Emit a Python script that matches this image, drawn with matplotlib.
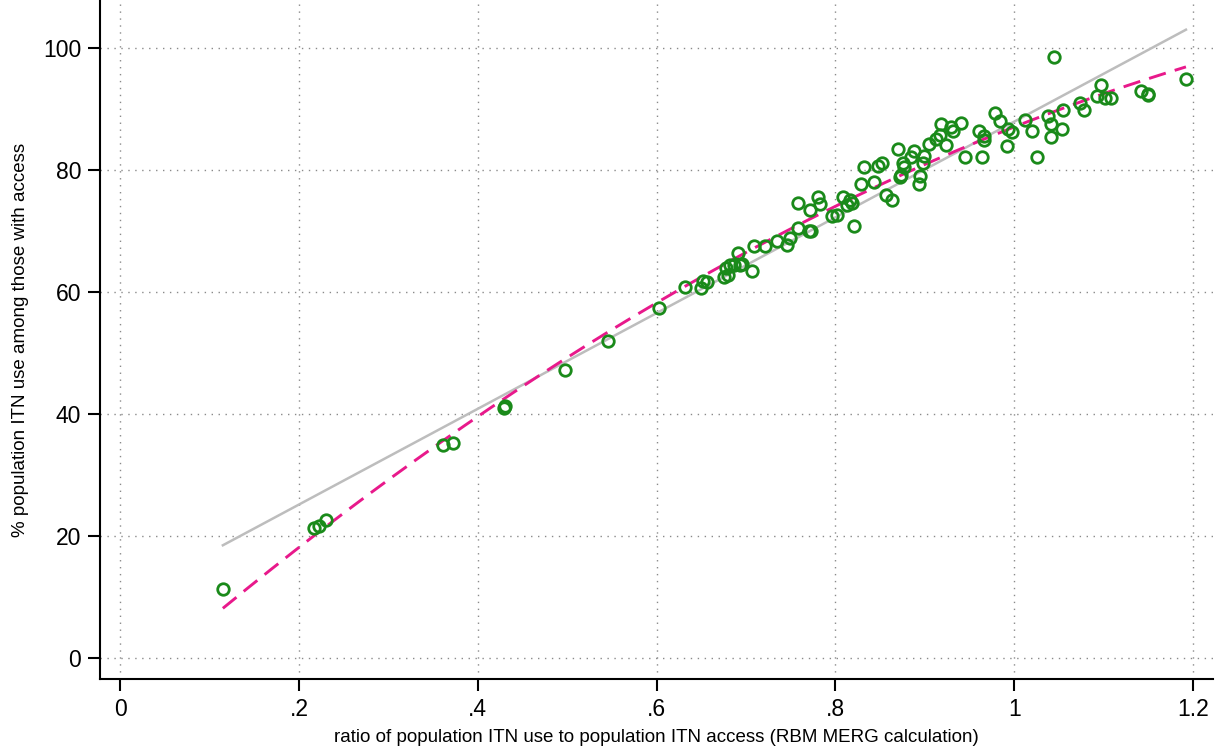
import matplotlib
matplotlib.use("Agg")
import matplotlib.pyplot as plt
import numpy as np

# ratio of use to access (x) and % use among those with access (y)
ratio = [0.115, 0.217, 0.222, 0.230, 0.361, 0.372, 0.429, 0.430,
         0.498, 0.546, 0.603, 0.632, 0.650, 0.652, 0.656, 0.675,
         0.680, 0.678, 0.682, 0.687, 0.691, 0.693, 0.696, 0.707,
         0.709, 0.721, 0.735, 0.746, 0.749, 0.758, 0.758, 0.770,
         0.773, 0.772, 0.781, 0.783, 0.796, 0.802, 0.808, 0.813,
         0.816, 0.819, 0.821, 0.829, 0.832, 0.843, 0.848, 0.852,
         0.857, 0.863, 0.870, 0.872, 0.873, 0.876, 0.877, 0.885,
         0.888, 0.894, 0.895, 0.898, 0.899, 0.905, 0.912, 0.917,
         0.918, 0.924, 0.929, 0.931, 0.940, 0.945, 0.961, 0.964,
         0.966, 0.966, 0.978, 0.984, 0.992, 0.993, 0.998, 1.012,
         1.020, 1.025, 1.038, 1.041, 1.041, 1.044, 1.053, 1.055,
         1.073, 1.078, 1.093, 1.097, 1.102, 1.108, 1.142, 1.149,
         1.150, 1.192]
use_pct = [11.3, 21.3, 21.6, 22.6, 34.9, 35.2, 41.0, 41.3,
           47.3, 52.0, 57.4, 60.8, 60.7, 61.8, 61.6, 62.4,
           62.8, 63.9, 64.5, 64.5, 66.4, 64.5, 64.6, 63.5,
           67.5, 67.6, 68.4, 67.8, 68.8, 70.5, 74.6, 70.0,
           70.0, 73.5, 75.6, 74.4, 72.4, 72.6, 75.6, 74.3,
           75.1, 74.6, 70.8, 77.7, 80.5, 78.1, 80.7, 81.1,
           76.0, 75.1, 83.4, 78.8, 79.2, 81.2, 80.5, 82.2,
           83.2, 77.8, 79.1, 81.1, 82.4, 84.3, 85.1, 85.7,
           87.5, 84.2, 87.0, 86.4, 87.7, 82.2, 86.4, 82.1,
           85.6, 84.9, 89.4, 88.1, 84.0, 86.8, 86.3, 88.3,
           86.5, 82.1, 88.8, 87.5, 85.4, 98.6, 86.8, 89.8,
           91.0, 89.9, 92.2, 94.0, 91.9, 91.9, 93.0, 92.5,
           92.3, 94.9]

x = np.array(ratio)
y = np.array(use_pct)
xs = np.linspace(x.min(), x.max(), 200)
lin = np.polyval(np.polyfit(x, y, 1), xs)
quad = np.polyval(np.polyfit(x, y, 2), xs)

plt.rcParams['font.family'] = ['Liberation Sans', 'DejaVu Sans']
fig = plt.figure(figsize=(12.3, 7.51), dpi=100)
ax = fig.add_axes([0.0813, 0.0959, 0.9047, 0.9041])

ax.plot(xs, lin, color='#bdbdbd', lw=1.8, zorder=2)
ax.plot(xs, quad, color='#e8198b', lw=2.1, dashes=(6, 3.2), zorder=3)
ax.plot(x, y, 'o', mfc='none', mec='#1a8a1a', mew=2.0, ms=8.3, zorder=4)

ax.set_xlim(-0.0224, 1.222)
ax.set_ylim(-3.44, 107.9)
ax.set_xticks([0, 0.2, 0.4, 0.6, 0.8, 1.0, 1.2])
ax.set_xticklabels(['0', '.2', '.4', '.6', '.8', '1', '1.2'])
ax.set_yticks([0, 20, 40, 60, 80, 100])
ax.grid(True, linestyle=(0, (1, 4)), color='#8a8a8a', lw=1.0)
ax.tick_params(axis='both', labelsize=16.5, length=8.5, width=1.5, direction='out')
ax.tick_params(axis='x', pad=5)
ax.tick_params(axis='y', pad=5)
for s in ['top', 'right']:
    ax.spines[s].set_visible(False)
for s in ['left', 'bottom']:
    ax.spines[s].set_linewidth(1.5)

ax.set_xlabel('ratio of population ITN use to population ITN access (RBM MERG calculation)',
              fontsize=13.5, labelpad=6)
ax.set_ylabel('% population ITN use among those with access', fontsize=13.5, labelpad=10)

fig.savefig('out.png', dpi=100)
